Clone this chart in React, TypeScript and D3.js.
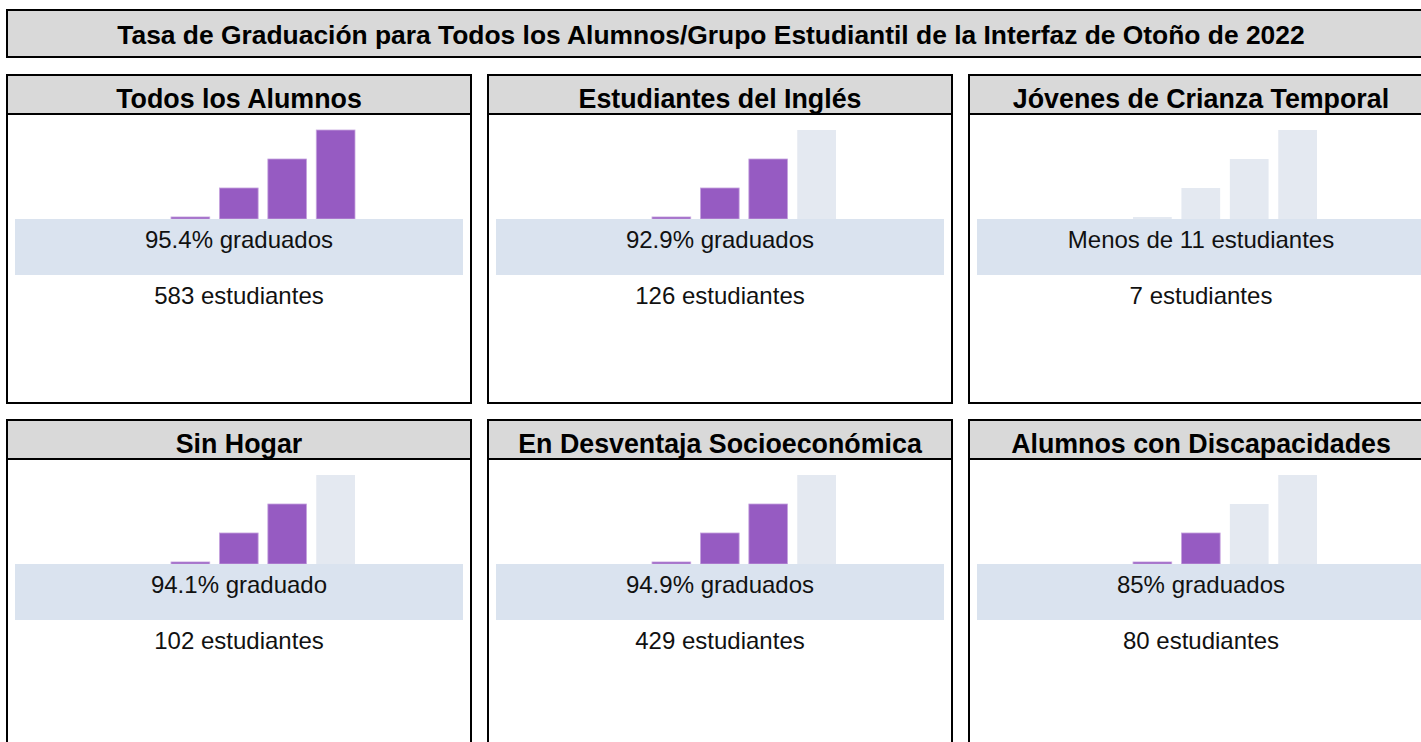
import React from "react";
import * as d3 from "d3";

// ---- data ----
const chartTitle =
  "Tasa de Graduación para Todos los Alumnos/Grupo Estudiantil de la Interfaz de Otoño de 2022";
const groups = [
  "Todos los Alumnos",
  "Estudiantes del Inglés",
  "Jóvenes de Crianza Temporal",
  "Sin Hogar",
  "En Desventaja Socioeconómica",
  "Alumnos con Discapacidades",
];
const rateLabels = [
  "95.4% graduados",
  "92.9% graduados",
  "Menos de 11 estudiantes",
  "94.1% graduado",
  "94.9% graduados",
  "85% graduados",
];
const studentCounts = [583, 126, 7, 102, 429, 80];
const filledBars = [4, 3, 0, 3, 3, 2];
const barLevels = [0.07, 1.07, 2.07, 3.07];

// ---- layout ----
const W = 1421;
const H = 742;
const PANEL_W = 464;
const PANEL_H = 328;
const COL_STEP = 481;
const ROW_STEP = 345;
const X0 = 7;
const Y0 = 75;
const HEADER_H = 39;
const BASE = 144;
const FONT = "'Liberation Sans', Arial, Helvetica, sans-serif";

const PURPLE = "#965bc2";
const PURPLE_EDGE = "#c7a6df";
const GREY_BAR = "#e4e9f1";
const BAND = "#dae3ef";

export default function App() {
  const x = d3
    .scaleBand<number>()
    .domain(d3.range(barLevels.length))
    .range([164, 348])
    .paddingInner(0.2);
  const y = d3
    .scaleLinear()
    .domain([0, d3.max(barLevels) as number])
    .range([0, 89]);

  return (
    <svg
      width={W}
      height={H}
      style={{ position: "absolute", left: 0, top: 0, background: "#fff" }}
      fontFamily={FONT}
    >
      <rect x={0} y={0} width={W} height={H} fill="#fff" />
      {/* main title */}
      <rect x={7} y={10} width={1426} height={47} fill="#d9d9d9" stroke="#000" strokeWidth={2} />
      <text x={711} y={44} textAnchor="middle" fontSize={26.4} fontWeight="bold" fill="#000">
        {chartTitle}
      </text>

      {groups.map((g, i) => {
        const col = i % 3;
        const row = Math.floor(i / 3);
        const px = X0 + col * COL_STEP;
        const py = Y0 + row * ROW_STEP;
        const panelH = row === 1 ? 400 : PANEL_H;
        return (
          <g key={g} transform={`translate(${px},${py})`}>
            <rect x={0} y={0} width={PANEL_W} height={panelH} fill="#fff" stroke="#000" strokeWidth={2} />
            <rect x={0} y={0} width={PANEL_W} height={HEADER_H} fill="#d9d9d9" stroke="#000" strokeWidth={2} />
            <text x={PANEL_W / 2} y={33} textAnchor="middle" fontSize={26.8} fontWeight="bold" fill="#000">
              {g}
            </text>
            {barLevels.map((v, k) => {
              const filled = k < filledBars[i];
              const h = y(v);
              return (
                <rect
                  key={k}
                  x={x(k)}
                  y={BASE - h}
                  width={x.bandwidth()}
                  height={h}
                  fill={filled ? PURPLE : GREY_BAR}
                  stroke={filled ? PURPLE_EDGE : "none"}
                  strokeWidth={filled ? 0.8 : 0}
                />
              );
            })}
            <rect x={8} y={BASE} width={448} height={56} fill={BAND} />
            <text x={PANEL_W / 2} y={173} textAnchor="middle" fontSize={24} fill="#111">
              {rateLabels[i]}
            </text>
            <text x={PANEL_W / 2} y={229} textAnchor="middle" fontSize={24} fill="#111">
              {`${studentCounts[i]} estudiantes`}
            </text>
          </g>
        );
      })}
    </svg>
  );
}
